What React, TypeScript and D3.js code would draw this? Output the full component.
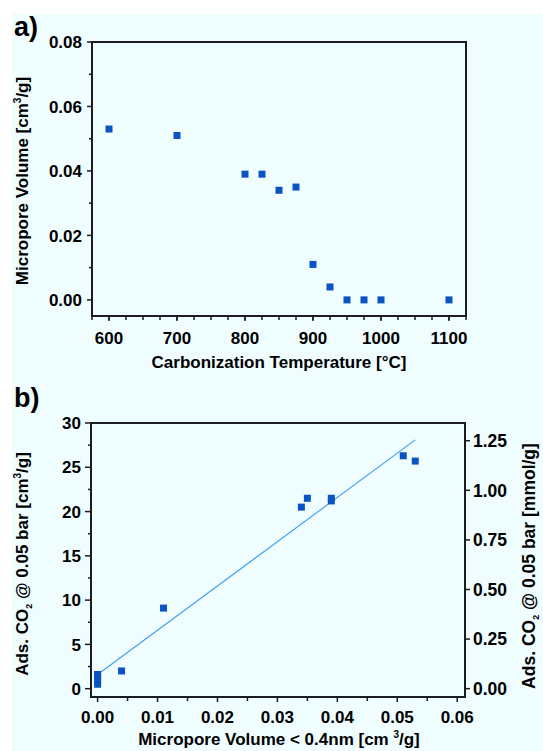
import React from "react";
import * as d3 from "d3";

// ---------- data ----------
const carbTemps = [600, 700, 800, 825, 850, 875, 900, 925, 950, 975, 1000, 1100];
const microVolA = [0.053, 0.051, 0.039, 0.039, 0.034, 0.035, 0.011, 0.004, 0, 0, 0, 0];

const microVolB = [0, 0, 0, 0, 0.004, 0.011, 0.034, 0.035, 0.039, 0.039, 0.051, 0.053];
const adsCO2 = [0.5, 0.9, 1.3, 1.6, 2.0, 9.1, 20.5, 21.5, 21.2, 21.5, 26.3, 25.7];

const fitX = [0, 0.053];
const fitY = [1.6, 28.1];

const aXTicks = [600, 700, 800, 900, 1000, 1100];
const aXMinor = d3.range(575, 1126, 25);
const aYTicks = [0, 0.02, 0.04, 0.06, 0.08];
const aYMinor = [0.01, 0.03, 0.05, 0.07];

const bXTicks = [0, 0.01, 0.02, 0.03, 0.04, 0.05, 0.06];
const bXMinor = [0.005, 0.015, 0.025, 0.035, 0.045, 0.055];
const bYTicks = [0, 5, 10, 15, 20, 25, 30];
const bYMinor = [2.5, 7.5, 12.5, 17.5, 22.5, 27.5];
const bRTicks = [0, 0.25, 0.5, 0.75, 1.0, 1.25];
const molarVolume = 22.4; // cm3 STP per mmol

const FONT = "'Liberation Sans', Arial, Helvetica, sans-serif";
const MARK = "#0a54c2";
const AX = "#1b1b22";

export default function App() {
  // panel a
  const ax = d3.scaleLinear().domain([575, 1125]).range([92, 466]);
  const ay = d3.scaleLinear().domain([-0.005, 0.08]).range([316, 42]);
  // panel b
  const bx = d3.scaleLinear().domain([-0.0011, 0.0613]).range([91, 465]);
  const by = d3.scaleLinear().domain([-0.94, 30]).range([697, 423]);
  const br = d3.scaleLinear().domain([-0.94 / molarVolume, 30 / molarVolume]).range([697, 423]);

  const ms = 7;
  const line = d3.line<number>().x((d, i) => bx(fitX[i])).y((d, i) => by(fitY[i]));

  const fa = (v: number) => d3.format(".2f")(v);

  return (
    <svg width={543} height={751} style={{ position: "absolute", left: 0, top: 0 }} fontFamily={FONT}>
      <rect x={0} y={0} width={543} height={751} fill="#ffffff" />
      <rect x={12} y={14} width={531} height={737} fill="#effdff" />

      {/* ---------- Panel a ---------- */}
      <text x={14} y={36} fontSize={27} fontWeight="bold" fill="#000">a)</text>
      <rect x={ax.range()[0]} y={ay.range()[1]} width={ax.range()[1] - ax.range()[0]} height={ay.range()[0] - ay.range()[1]} fill="none" stroke={AX} strokeWidth={2} />
      {aYTicks.map((t) => (
        <g key={"ay" + t}>
          <line x1={87} x2={92} y1={ay(t)} y2={ay(t)} stroke={AX} strokeWidth={1.5} />
          <text x={82} y={ay(t)} dy="0.36em" textAnchor="end" fontSize={17} fontWeight="bold">{fa(t)}</text>
        </g>
      ))}
      {aYMinor.map((t) => (
        <line key={"aym" + t} x1={89} x2={92} y1={ay(t)} y2={ay(t)} stroke={AX} strokeWidth={1.5} />
      ))}
      {aXMinor.map((t) => (
        <line key={"axm" + t} x1={ax(t)} x2={ax(t)} y1={316} y2={320} stroke={AX} strokeWidth={1.5} />
      ))}
      {aXTicks.map((t) => (
        <g key={"ax" + t}>
          <line x1={ax(t)} x2={ax(t)} y1={316} y2={321} stroke={AX} strokeWidth={1.5} />
          <text x={ax(t)} y={344} textAnchor="middle" fontSize={17} fontWeight="bold">{t}</text>
        </g>
      ))}
      <text x={279} y={368} textAnchor="middle" fontSize={17} fontWeight="bold">Carbonization Temperature [°C]</text>
      <text transform="translate(28,181) rotate(-90)" textAnchor="middle" fontSize={17} fontWeight="bold">
        Micropore Volume [cm<tspan fontSize={10} dy={-7}>3</tspan><tspan dy={7}>/g]</tspan>
      </text>
      {carbTemps.map((t, i) => (
        <rect key={"pa" + i} x={ax(t) - ms / 2} y={ay(microVolA[i]) - ms / 2} width={ms} height={ms} fill={MARK} />
      ))}

      {/* ---------- Panel b ---------- */}
      <text x={14} y={407} fontSize={27} fontWeight="bold" fill="#000">b)</text>
      <rect x={bx.range()[0]} y={by.range()[1]} width={bx.range()[1] - bx.range()[0]} height={by.range()[0] - by.range()[1]} fill="none" stroke={AX} strokeWidth={2} />
      {bYTicks.map((t) => (
        <g key={"by" + t}>
          <line x1={85} x2={91} y1={by(t)} y2={by(t)} stroke={AX} strokeWidth={1.5} />
          <text x={81} y={by(t)} dy="0.36em" textAnchor="end" fontSize={17} fontWeight="bold">{t}</text>
        </g>
      ))}
      {bYMinor.map((t) => (
        <line key={"bym" + t} x1={88} x2={91} y1={by(t)} y2={by(t)} stroke={AX} strokeWidth={1.5} />
      ))}
      {bXMinor.map((t) => (
        <line key={"bxm" + t} x1={bx(t)} x2={bx(t)} y1={697} y2={701} stroke={AX} strokeWidth={1.5} />
      ))}
      {bXTicks.map((t) => (
        <g key={"bx" + t}>
          <line x1={bx(t)} x2={bx(t)} y1={697} y2={702} stroke={AX} strokeWidth={1.5} />
          <text x={bx(t)} y={723} textAnchor="middle" fontSize={17} fontWeight="bold">{fa(t)}</text>
        </g>
      ))}
      {bRTicks.map((t) => (
        <g key={"br" + t}>
          <line x1={465} x2={470} y1={br(t)} y2={br(t)} stroke={AX} strokeWidth={1.5} />
          <text x={473} y={br(t)} dy="0.36em" textAnchor="start" fontSize={17.5} fontWeight="bold">{fa(t)}</text>
        </g>
      ))}
      <text x={279} y={745} textAnchor="middle" fontSize={17} fontWeight="bold">
        Micropore Volume &lt; 0.4nm [cm <tspan fontSize={10} dy={-7}>3</tspan><tspan dy={7}>/g]</tspan>
      </text>
      <text transform="translate(28,564) rotate(-90)" textAnchor="middle" fontSize={17} fontWeight="bold">
        Ads. CO<tspan fontSize={9} dy={4}>2</tspan><tspan dy={-4}> @ 0.05 bar [cm</tspan><tspan fontSize={10} dy={-7}>3</tspan><tspan dy={7}>/g]</tspan>
      </text>
      <text transform="translate(535,566) rotate(-90)" textAnchor="middle" fontSize={17.5} fontWeight="bold">
        Ads. CO<tspan fontSize={9} dy={4}>2</tspan><tspan dy={-4}> @ 0.05 bar [mmol/g]</tspan>
      </text>
      <path d={line(fitY) || ""} fill="none" stroke="#3d9ef0" strokeWidth={1.1} />
      {microVolB.map((v, i) => (
        <rect key={"pb" + i} x={bx(v) - ms / 2} y={by(adsCO2[i]) - ms / 2} width={ms} height={ms} fill={MARK} />
      ))}
    </svg>
  );
}
